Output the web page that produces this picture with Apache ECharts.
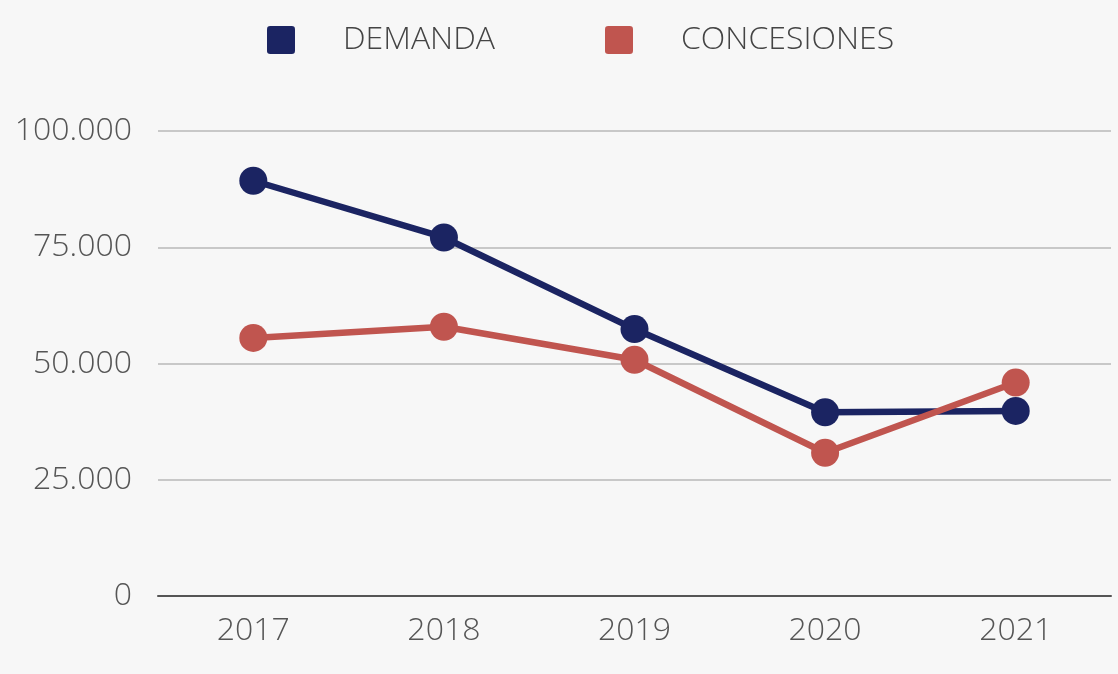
<!DOCTYPE html>
<html>
<head>
<meta charset="utf-8">
<script src="https://cdn.jsdelivr.net/npm/echarts@6/dist/echarts.min.js"></script>
<style>
  html, body { margin: 0; padding: 0; background: #f7f7f7; }
  #container { width: 1118px; height: 674px; }
</style>
</head>
<body>
<div id="container"></div>
<script>
// Data
const years = ['2017', '2018', '2019', '2020', '2021'];
const demanda = [89300, 77100, 57400, 39500, 39800];
const concesiones = [55500, 57900, 50800, 30800, 45900];
const yTicks = [0, 25000, 50000, 75000, 100000];

const chart = echarts.init(document.getElementById('container'));

const fmt = v => v === 0 ? '0' : v.toLocaleString('de-DE');
const font = '"Open Sans", sans-serif';
// square with slightly rounded corners
const squareIcon = 'path://M3,0 H23 Q26,0 26,3 V23 Q26,26 23,26 H3 Q0,26 0,23 V3 Q0,0 3,0 Z';

const option = {
  backgroundColor: '#f7f7f7',
  legend: {
    top: 19,
    left: 262,
    itemWidth: 28,
    itemHeight: 28,
    itemGap: 110,
    icon: squareIcon,
    textStyle: { fontFamily: font, fontWeight: 300, fontSize: 32, color: '#444', padding: [0, 0, 0, 43] },
    data: ['DEMANDA', 'CONCESIONES']
  },
  grid: { left: 158, right: 7, top: 131, bottom: 78 },
  xAxis: {
    type: 'category',
    data: years,
    axisLine: { lineStyle: { color: '#555', width: 2 } },
    axisTick: { show: false },
    axisLabel: { fontFamily: font, fontWeight: 300, fontSize: 32, color: '#555', margin: 19 }
  },
  yAxis: {
    type: 'value',
    min: yTicks[0],
    max: yTicks[yTicks.length - 1],
    interval: 25000,
    axisLine: { show: false },
    axisTick: { show: false },
    splitLine: { lineStyle: { color: '#c8c8c8', width: 2 } },
    axisLabel: { fontFamily: font, fontWeight: 300, fontSize: 32, color: '#555', margin: 26, formatter: fmt }
  },
  series: [
    {
      name: 'DEMANDA',
      type: 'line',
      data: demanda,
      symbol: 'circle',
      symbolSize: 28,
      color: '#1b2462',
      lineStyle: { width: 6.5, color: '#1b2462' },
      itemStyle: { color: '#1b2462' }
    },
    {
      name: 'CONCESIONES',
      type: 'line',
      data: concesiones,
      symbol: 'circle',
      symbolSize: 28,
      color: '#c0554f',
      lineStyle: { width: 6.5, color: '#c0554f' },
      itemStyle: { color: '#c0554f' }
    }
  ]
};

chart.setOption(option);
</script>
</body>
</html>
